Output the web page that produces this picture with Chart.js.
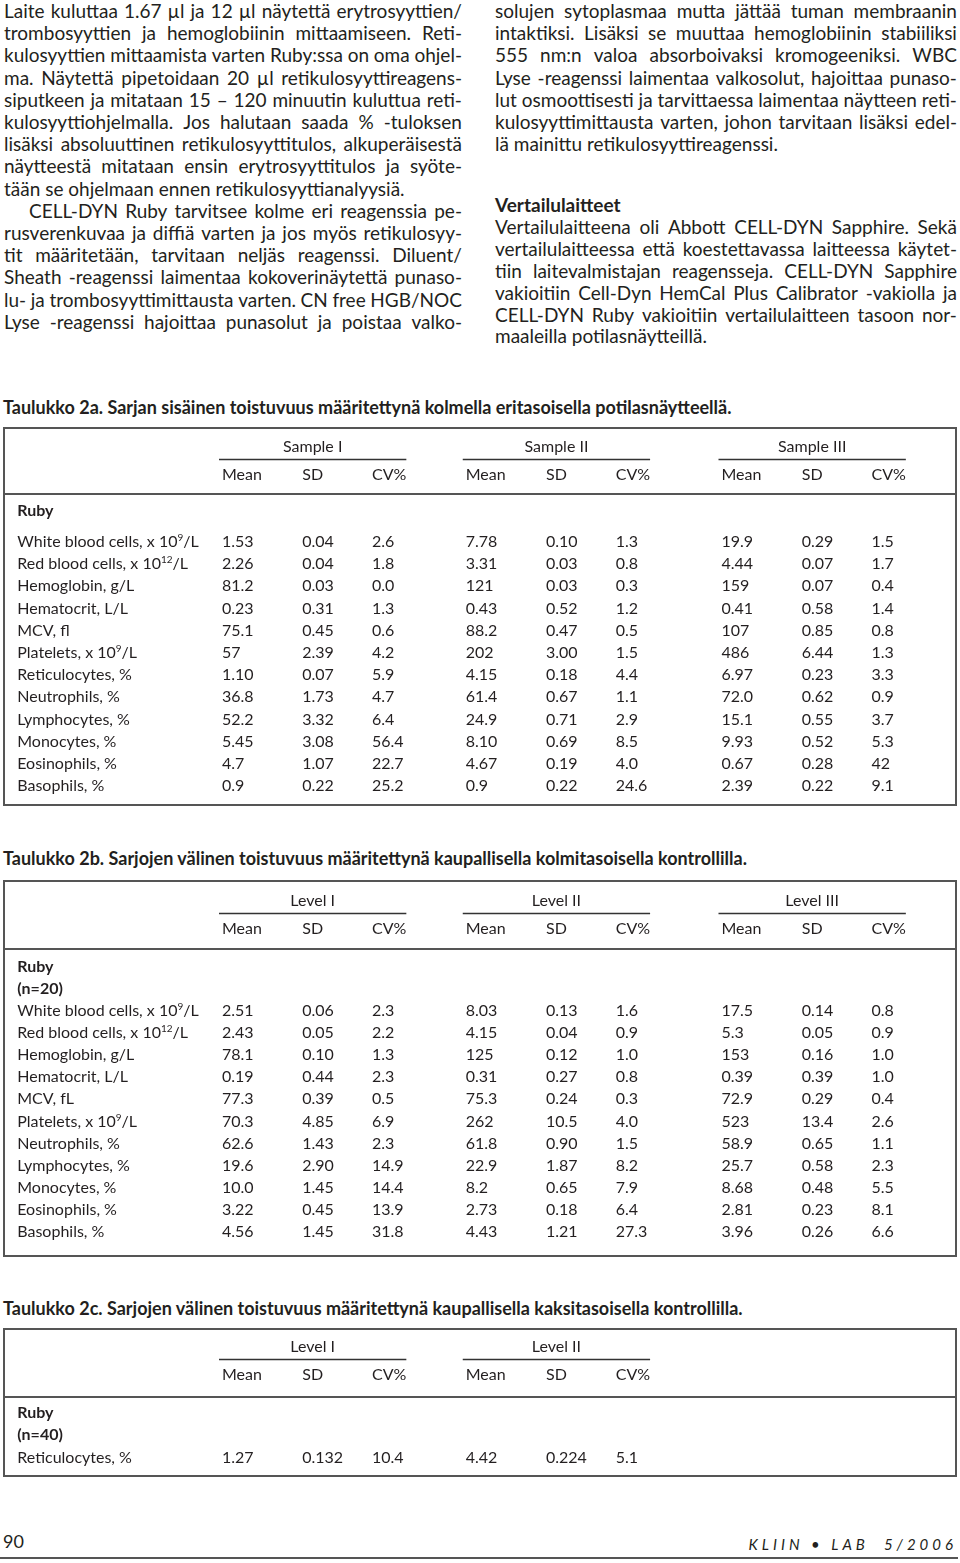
<!DOCTYPE html>
<html>
<head>
<meta charset="utf-8">
<script src="https://cdn.jsdelivr.net/npm/chart.js@4.4.1/dist/chart.umd.min.js"></script>
<style>
  body { margin: 0; width: 960px; height: 1563px; position: relative; overflow: hidden;
         background: #fff; color: #231f20; font-family: Lato, "Open Sans", sans-serif; }
  .ln { position: absolute; font-size: 19px; line-height: 22px; white-space: nowrap; }
  .just { display: flex; justify-content: space-between; box-sizing: border-box; }
  .ttl { position: absolute; left: 3px; font-size: 18px; font-weight: bold; line-height: 20px; white-space: nowrap; }
  .tbl { position: absolute; left: 3px; }
  #pg { position: absolute; left: 3px; top: 1530px; font-size: 18px; line-height: 22px; }
  #mag { position: absolute; right: 3px; top: 1533px; font-size: 15px; line-height: 22px; font-style: italic; letter-spacing: 4px; }
  #rule { position: absolute; left: 0; top: 1557px; width: 958px; height: 2px; background: #555; }
</style>
</head>
<body>
<div id="text"></div>
<div class="ttl" style="top:397px">Taulukko 2a. Sarjan sisäinen toistuvuus määritettynä kolmella eritasoisella potilasnäytteellä.</div>
<canvas id="t2a" class="tbl" style="top:427px" width="954" height="379"></canvas>
<div class="ttl" style="top:848px">Taulukko 2b. Sarjojen välinen toistuvuus määritettynä kaupallisella kolmitasoisella kontrollilla.</div>
<canvas id="t2b" class="tbl" style="top:880px" width="954" height="377"></canvas>
<div class="ttl" style="top:1298px">Taulukko 2c. Sarjojen välinen toistuvuus määritettynä kaupallisella kaksitasoisella kontrollilla.</div>
<canvas id="t2c" class="tbl" style="top:1328px" width="954" height="149"></canvas>
<div id="pg">90</div>
<div id="mag">KLIIN • LAB&nbsp;&nbsp;5/2006</div>
<div id="rule"></div>
<script>
// ---- prose ----
const leftLines = [
  "Laite kuluttaa 1.67 µl ja 12 µl näytettä erytrosyyttien/",
  "trombosyyttien ja hemoglobiinin mittaamiseen. Reti-",
  "kulosyyttien mittaamista varten Ruby:ssa on oma ohjel-",
  "ma. Näytettä pipetoidaan 20 µl retikulosyyttireagens-",
  "siputkeen ja mitataan 15 – 120 minuutin kuluttua reti-",
  "kulosyyttiohjelmalla. Jos halutaan saada % -tuloksen",
  "lisäksi absoluuttinen retikulosyyttitulos, alkuperäisestä",
  "näytteestä mitataan ensin erytrosyyttitulos ja syöte-",
  "|tään se ohjelmaan ennen retikulosyyttianalyysiä.",
  ">CELL-DYN Ruby tarvitsee kolme eri reagenssia pe-",
  "rusverenkuvaa ja diffiä varten ja jos myös retikulosyy-",
  "tit määritetään, tarvitaan neljäs reagenssi. Diluent/",
  "Sheath -reagenssi laimentaa kokoverinäytettä punaso-",
  "lu- ja trombosyyttimittausta varten. CN free HGB/NOC",
  "Lyse -reagenssi hajoittaa punasolut ja poistaa valko-"
];
const rightLines = [
  "solujen sytoplasmaa mutta jättää tuman membraanin",
  "intaktiksi. Lisäksi se muuttaa hemoglobiinin stabiiliksi",
  "555 nm:n valoa absorboivaksi kromogeeniksi. WBC",
  "Lyse -reagenssi laimentaa valkosolut, hajoittaa punaso-",
  "lut osmoottisesti ja tarvittaessa laimentaa näytteen reti-",
  "kulosyyttimittausta varten, johon tarvitaan lisäksi edel-",
  "|lä mainittu retikulosyyttireagenssi."
];
const rightLines2 = [
  "*Vertailulaitteet",
  "Vertailulaitteena oli Abbott CELL-DYN Sapphire. Sekä",
  "vertailulaitteessa että koestettavassa laitteessa käytet-",
  "tiin laitevalmistajan reagensseja. CELL-DYN Sapphire",
  "vakioitiin Cell-Dyn HemCal Plus Calibrator -vakiolla ja",
  "CELL-DYN Ruby vakioitiin vertailulaitteen tasoon nor-",
  "|maaleilla potilasnäytteillä."
];

function writeLines(lines, left, width, top, pitch) {
  const box = document.getElementById('text');
  lines.forEach((s, i) => {
    const d = document.createElement('div');
    d.className = 'ln';
    d.style.left = left + 'px';
    d.style.top = (top + i * pitch) + 'px';
    if (s[0] === '|') { d.textContent = s.slice(1); }
    else if (s[0] === '*') { d.textContent = s.slice(1); d.style.fontWeight = 'bold'; }
    else {
      let indent = 0;
      if (s[0] === '>') { s = s.slice(1); indent = 25; }
      d.classList.add('just');
      d.style.width = width + 'px';
      d.style.paddingLeft = indent + 'px';
      s.split(' ').forEach(w => { const sp = document.createElement('span'); sp.textContent = w; d.appendChild(sp); });
    }
    box.appendChild(d);
  });
}
writeLines(leftLines, 4, 458, 0, 22.2);
writeLines(rightLines, 495, 462, 0, 22.2);
writeLines(rightLines2, 495, 462, 194, 21.9);

// ---- table data ----
const stats = ["Mean", "SD", "CV%"];

const rows2a = ["White blood cells, x 10^9/L", "Red blood cells, x 10^12/L", "Hemoglobin, g/L", "Hematocrit, L/L",
  "MCV, fl", "Platelets, x 10^9/L", "Reticulocytes, %", "Neutrophils, %", "Lymphocytes, %", "Monocytes, %",
  "Eosinophils, %", "Basophils, %"];
const groups2a = ["Sample I", "Sample II", "Sample III"];
const s1Mean = ["1.53", "2.26", "81.2", "0.23", "75.1", "57", "1.10", "36.8", "52.2", "5.45", "4.7", "0.9"];
const s1SD   = ["0.04", "0.04", "0.03", "0.31", "0.45", "2.39", "0.07", "1.73", "3.32", "3.08", "1.07", "0.22"];
const s1CV   = ["2.6", "1.8", "0.0", "1.3", "0.6", "4.2", "5.9", "4.7", "6.4", "56.4", "22.7", "25.2"];
const s2Mean = ["7.78", "3.31", "121", "0.43", "88.2", "202", "4.15", "61.4", "24.9", "8.10", "4.67", "0.9"];
const s2SD   = ["0.10", "0.03", "0.03", "0.52", "0.47", "3.00", "0.18", "0.67", "0.71", "0.69", "0.19", "0.22"];
const s2CV   = ["1.3", "0.8", "0.3", "1.2", "0.5", "1.5", "4.4", "1.1", "2.9", "8.5", "4.0", "24.6"];
const s3Mean = ["19.9", "4.44", "159", "0.41", "107", "486", "6.97", "72.0", "15.1", "9.93", "0.67", "2.39"];
const s3SD   = ["0.29", "0.07", "0.07", "0.58", "0.85", "6.44", "0.23", "0.62", "0.55", "0.52", "0.28", "0.22"];
const s3CV   = ["1.5", "1.7", "0.4", "1.4", "0.8", "1.3", "3.3", "0.9", "3.7", "5.3", "42", "9.1"];

const rows2b = ["White blood cells, x 10^9/L", "Red blood cells, x 10^12/L", "Hemoglobin, g/L", "Hematocrit, L/L",
  "MCV, fL", "Platelets, x 10^9/L", "Neutrophils, %", "Lymphocytes, %", "Monocytes, %", "Eosinophils, %", "Basophils, %"];
const groups2b = ["Level I", "Level II", "Level III"];
const l1Mean = ["2.51", "2.43", "78.1", "0.19", "77.3", "70.3", "62.6", "19.6", "10.0", "3.22", "4.56"];
const l1SD   = ["0.06", "0.05", "0.10", "0.44", "0.39", "4.85", "1.43", "2.90", "1.45", "0.45", "1.45"];
const l1CV   = ["2.3", "2.2", "1.3", "2.3", "0.5", "6.9", "2.3", "14.9", "14.4", "13.9", "31.8"];
const l2Mean = ["8.03", "4.15", "125", "0.31", "75.3", "262", "61.8", "22.9", "8.2", "2.73", "4.43"];
const l2SD   = ["0.13", "0.04", "0.12", "0.27", "0.24", "10.5", "0.90", "1.87", "0.65", "0.18", "1.21"];
const l2CV   = ["1.6", "0.9", "1.0", "0.8", "0.3", "4.0", "1.5", "8.2", "7.9", "6.4", "27.3"];
const l3Mean = ["17.5", "5.3", "153", "0.39", "72.9", "523", "58.9", "25.7", "8.68", "2.81", "3.96"];
const l3SD   = ["0.14", "0.05", "0.16", "0.39", "0.29", "13.4", "0.65", "0.58", "0.48", "0.23", "0.26"];
const l3CV   = ["0.8", "0.9", "1.0", "1.0", "0.4", "2.6", "1.1", "2.3", "5.5", "8.1", "6.6"];

const rows2c = ["Reticulocytes, %"];
const groups2c = ["Level I", "Level II"];
const c1Mean = ["1.27"], c1SD = ["0.132"], c1CV = ["10.4"];
const c2Mean = ["4.42"], c2SD = ["0.224"], c2CV = ["5.1"];

// ---- column layout (x axis units) ----
const X_MIN = -0.19, X_MAX = 12.53;
const LABEL_X = 0;
const GROUP_X = [2.73, 5.98, 9.39];
const STAT_DX = [0, 1.07, 2.0];

const FS = 16;
const INK = '#231f20';

function drawRich(ctx, s, x, y) {
  const parts = s.split(/\^(\d+)/);
  parts.forEach((p, i) => {
    if (i % 2) {
      ctx.font = `10px Lato, "Open Sans", sans-serif`;
      ctx.fillText(p, x, y - 6);
      x += ctx.measureText(p).width;
      ctx.font = `${FS}px Lato, "Open Sans", sans-serif`;
    } else {
      ctx.fillText(p, x, y);
      x += ctx.measureText(p).width;
    }
  });
}

const tablePlugin = {
  id: 'tableText',
  afterDatasetsDraw(chart, args, opts) {
    const ctx = chart.ctx, xs = chart.scales.x, ys = chart.scales.y;
    const W = chart.width, H = chart.height;
    ctx.save();
    // frame and header rule
    ctx.strokeStyle = '#555';
    ctx.lineWidth = 2;
    ctx.strokeRect(1, 1, W - 2, H - 2);
    const ry = Math.round(ys.getPixelForValue(opts.ruleY));
    ctx.beginPath(); ctx.moveTo(0, ry); ctx.lineTo(W, ry); ctx.stroke();
    ctx.fillStyle = INK;
    ctx.textBaseline = 'alphabetic';
    ctx.textAlign = 'left';
    chart.data.datasets.forEach((ds, di) => {
      const meta = chart.getDatasetMeta(di);
      meta.data.forEach((el, i) => {
        const d = ds.data[i];
        const base = el.y + 5;
        if (ds.kind === 'group') {
          ctx.font = `${FS}px Lato, "Open Sans", sans-serif`;
          const x0 = el.x - 3;
          const x1 = xs.getPixelForValue(d.x + STAT_DX[2]) + ctx.measureText('CV%').width;
          const ly = Math.round(ys.getPixelForValue(opts.lineY)) + 0.5;
          ctx.lineWidth = 1.5; ctx.strokeStyle = '#333';
          ctx.beginPath(); ctx.moveTo(x0, ly); ctx.lineTo(x1, ly); ctx.stroke();
          ctx.textAlign = 'center';
          ctx.fillText(d.t, (x0 + x1) / 2, base);
          ctx.textAlign = 'left';
        } else if (ds.kind === 'bold') {
          ctx.font = `bold ${FS}px Lato, "Open Sans", sans-serif`;
          ctx.fillText(d.t, el.x, base);
        } else {
          ctx.font = `${FS}px Lato, "Open Sans", sans-serif`;
          drawRich(ctx, d.t, el.x, base);
        }
      });
    });
    ctx.restore();
  }
};

function buildTable(id, t) {
  const datasets = [];
  datasets.push({ kind: 'label', data: t.rows.map((r, i) => ({ x: LABEL_X, y: i, t: r })) });
  t.bold.forEach(b => datasets.push({ kind: 'bold', data: [{ x: LABEL_X, y: b.y, t: b.t }] }));
  t.groups.forEach((g, gi) => {
    datasets.push({ kind: 'group', data: [{ x: GROUP_X[gi], y: t.groupY, t: g }] });
    stats.forEach((s, si) => datasets.push({ kind: 'stat', data: [{ x: GROUP_X[gi] + STAT_DX[si], y: t.statY, t: s }] }));
    t.values[gi].forEach((col, si) => datasets.push({
      kind: 'value', data: col.map((v, i) => ({ x: GROUP_X[gi] + STAT_DX[si], y: i, t: v }))
    }));
  });
  datasets.forEach(ds => { ds.pointRadius = 0; ds.pointHoverRadius = 0; });
  return new Chart(document.getElementById(id), {
    type: 'scatter',
    data: { datasets },
    options: {
      responsive: false,
      animation: false,
      events: [],
      layout: { padding: 0 },
      plugins: { legend: { display: false }, tooltip: { enabled: false },
                 tableText: { ruleY: t.ruleY, lineY: t.lineY } },
      scales: {
        x: { type: 'linear', display: false, min: X_MIN, max: X_MAX },
        y: { type: 'linear', display: false, reverse: true, min: t.yMin, max: t.yMax }
      }
    },
    plugins: [tablePlugin]
  });
}

buildTable('t2a', {
  rows: rows2a, groups: groups2a,
  values: [[s1Mean, s1SD, s1CV], [s2Mean, s2SD, s2CV], [s3Mean, s3SD, s3CV]],
  bold: [{ y: -1.40, t: 'Ruby' }],
  yMin: -5.18, yMax: 11.89, groupY: -4.28, lineY: -3.74, statY: -3.02, ruleY: -2.16
});
buildTable('t2b', {
  rows: rows2b, groups: groups2b,
  values: [[l1Mean, l1SD, l1CV], [l2Mean, l2SD, l2CV], [l3Mean, l3SD, l3CV]],
  bold: [{ y: -2, t: 'Ruby' }, { y: -1, t: '(n=20)' }],
  yMin: -5.93, yMax: 11.13, groupY: -4.98, lineY: -4.44, statY: -3.71, ruleY: -2.81
});
buildTable('t2c', {
  rows: rows2c, groups: groups2c,
  values: [[c1Mean, c1SD, c1CV], [c2Mean, c2SD, c2CV]],
  bold: [{ y: -2.04, t: 'Ruby' }, { y: -1.04, t: '(n=40)' }],
  yMin: -5.88, yMax: 0.86, groupY: -5.02, lineY: -4.48, statY: -3.75, ruleY: -2.76
});
</script>
</body>
</html>
